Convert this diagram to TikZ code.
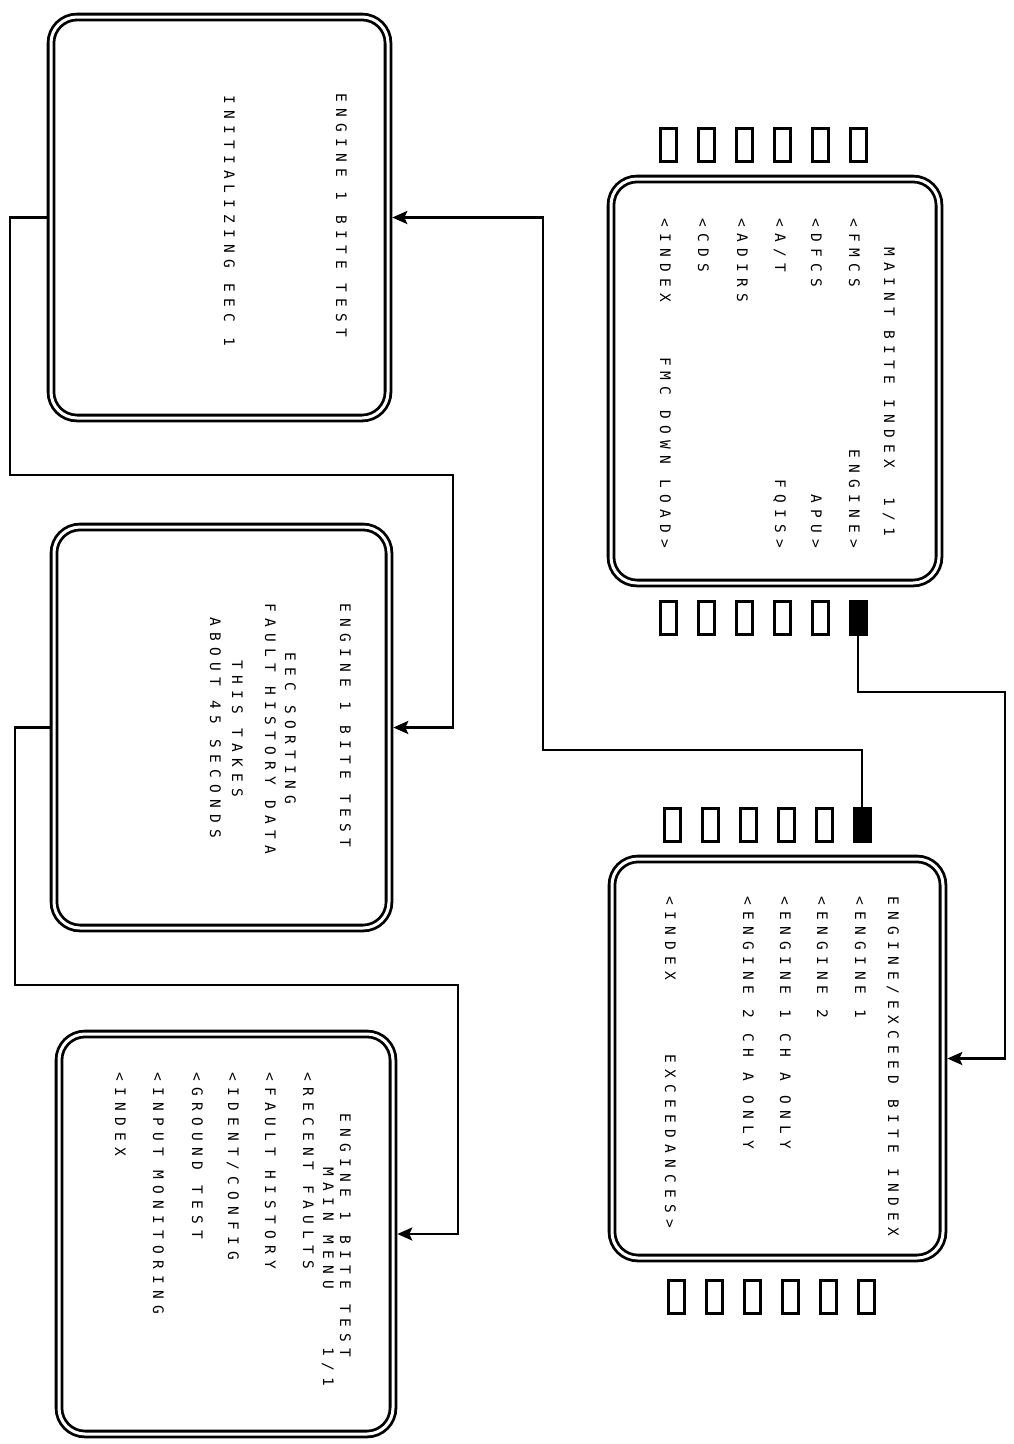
\documentclass[tikz,border=0pt]{standalone}
\usepackage{fontspec}
\newfontfamily\crt[LetterSpace=43]{DejaVu Sans Mono}
\usetikzlibrary{arrows.meta}
\begin{document}
\begin{tikzpicture}[x=1pt,y=-1pt,
 screen/.style={draw, line width=2.8pt, double, double distance=3pt, rounded corners=26pt, inner sep=0pt, outer sep=4.3pt},
 keybox/.style={draw, line width=3pt, minimum width=16pt, minimum height=33pt, inner sep=0pt},
 keyon/.style={keybox, fill=black},
 ln/.style={rotate=-90, anchor=base west, inner sep=0pt, font=\crt\fontsize{14.5}{14.5}\selectfont},
 lnr/.style={ln, anchor=base east},
 conn/.style={line width=2.6pt, -{Stealth[length=15pt,width=13pt,inset=3pt]}},
]
\useasboundingbox[fill=white] (0,0) rectangle (1013,1444);

% screens
\node[screen, minimum width=328pt, minimum height=404pt] (A) at (775,381) {};
\node[screen, minimum width=331pt, minimum height=399pt] (B) at (777.5,1058.5) {};
\node[screen, minimum width=337pt, minimum height=401pt] (C) at (219.5,217.5) {};
\node[screen, minimum width=335pt, minimum height=401pt] (D) at (221.5,727.5) {};
\node[screen, minimum width=334pt, minimum height=400pt] (E) at (226,1234) {};

% keys
\foreach \i in {0,...,5} \node[keybox] (kAt\i) at ({668+38*\i},145) {};
\foreach \i in {0,...,4} \node[keybox] (kAb\i) at ({668+38*\i},618) {};
\node[keyon] (kAb5) at (858,618) {};
\foreach \i in {0,...,4} \node[keybox] (kBt\i) at ({672+38*\i},825) {};
\node[keyon] (kBt5) at (862,825) {};
\foreach \i in {0,...,5} \node[keybox] (kBb\i) at ({676+38*\i},1297) {};

% screen A text
\node[ln] (a1) at (884,247) {MAINT BITE INDEX\space\space1/1};
\node[ln] (a2) at (849,218) {<FMCS};
\node[lnr] (a2r) at (849,548) {ENGINE>};
\node[ln] (a3) at (811,218) {<DFCS};
\node[lnr] (a3r) at (811,548) {APU>};
\node[ln] (a4) at (775,218) {<A/T};
\node[lnr] (a4r) at (775,548) {FQIS>};
\node[ln] (a5) at (737,218) {<ADIRS};
\node[ln] (a6) at (698,218) {<CDS};
\node[ln] (a7) at (660,218) {<INDEX};
\node[lnr] (a7r) at (660,548) {FMC DOWN LOAD>};

% screen B text
\node[ln] (b1) at (888,896) {ENGINE/EXCEED BITE INDEX};
\node[ln] (b2) at (855,896) {<ENGINE 1};
\node[ln] (b3) at (817,896) {<ENGINE 2};
\node[ln] (b4) at (780,896) {<ENGINE 1 CH A ONLY};
\node[ln] (b5) at (743,896) {<ENGINE 2 CH A ONLY};
\node[ln] (b6) at (665,896) {<INDEX};
\node[lnr] (b6r) at (665,1228) {EXCEEDANCES>};

% screen C text
\node[ln] (c1t) at (336,93) {ENGINE 1 BITE TEST};
\node[ln] (c2t) at (224,95) {INITIALIZING EEC 1};

% screen D text
\node[ln] (d1) at (340,603) {ENGINE 1 BITE TEST};
\node[ln] (d2) at (285,652) {EEC SORTING};
\node[ln] (d3) at (265,603) {FAULT HISTORY DATA};
\node[ln] (d4) at (232,660) {THIS TAKES};
\node[ln] (d5) at (210,617) {ABOUT 45 SECONDS};

% screen E text
\node[ln] (e1) at (340,1113) {ENGINE 1 BITE TEST};
\node[ln] (e2) at (323,1167) {MAIN MENU};
\node[lnr] (e2r) at (323,1386) {1/1};
\node[ln] (e3) at (303,1072) {<RECENT FAULTS};
\node[ln] (e4) at (265,1072) {<FAULT HISTORY};
\node[ln] (e5) at (228,1072) {<IDENT/CONFIG};
\node[ln] (e6) at (192,1072) {<GROUND TEST};
\node[ln] (e7) at (153,1072) {<INPUT MONITORING};
\node[ln] (e8) at (115,1072) {<INDEX};

% connectors
\coordinate (p1) at (1005,692);
\draw[conn] (kAb5.south) |- (p1) |- (B.east);
\coordinate (p2) at (543,750);
\draw[conn] (kBt5.north) |- (p2) |- (C.east);
\coordinate (p3a) at (10,475);
\coordinate (p3b) at (453,475);
\draw[conn] (C.west) -| (p3a) -- (p3b) |- (D.east);
\coordinate (p4a) at (15,985);
\coordinate (p4b) at (458,985);
\draw[conn] (D.west) -| (p4a) -- (p4b) |- (E.east);
\end{tikzpicture}
\end{document}
